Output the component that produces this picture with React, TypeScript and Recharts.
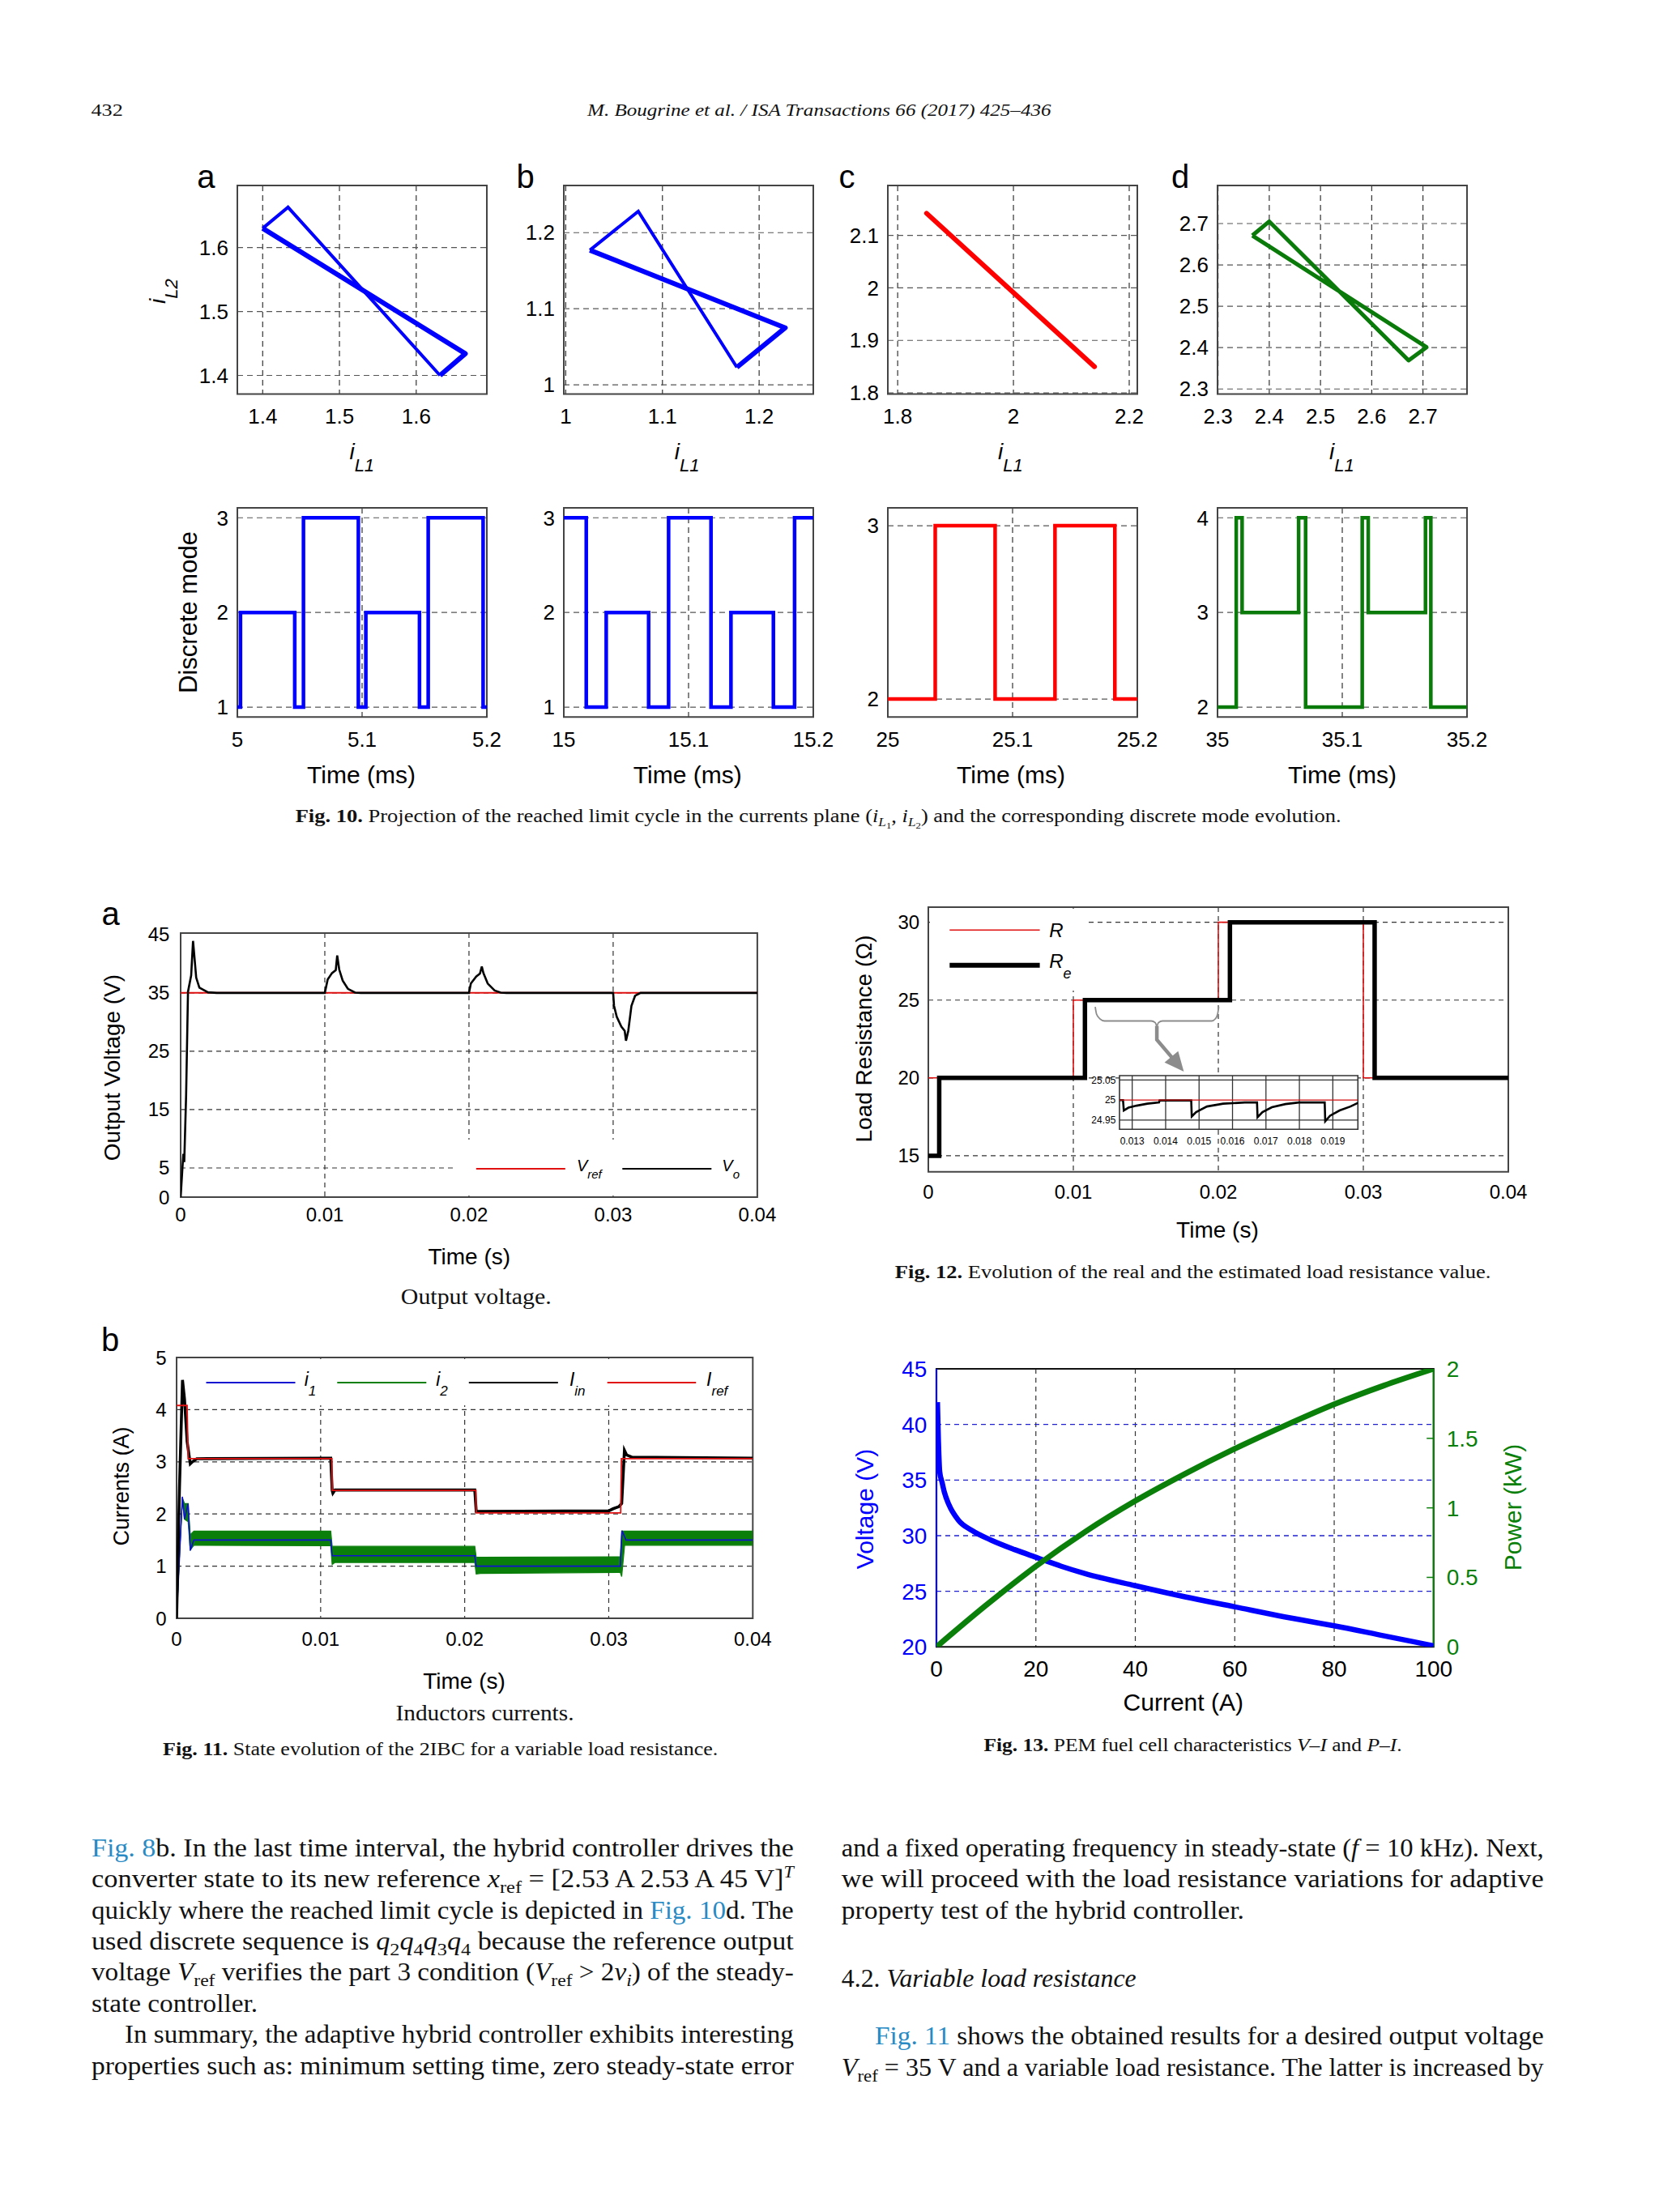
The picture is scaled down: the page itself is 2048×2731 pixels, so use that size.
import React from 'react';
import {
  ComposedChart,
  Line,
  Area,
  XAxis,
  YAxis,
  CartesianGrid,
  ReferenceArea,
  ReferenceLine,
} from 'recharts';

const SANS = "'Liberation Sans', Arial, Helvetica, sans-serif";
const SERIF = "'Liberation Serif', 'Times New Roman', serif";
const LINK = '#2a8bc4';
const BLUE = '#0000ff';
const RED = '#ff0000';
const GREEN = '#0a7f0a';

// ---------- Fig. 10 : limit cycles in the (iL1, iL2) plane ----------
const cycleAThin = [[1.4, 1.63], [1.433, 1.663], [1.631, 1.4]];
const cycleAThick = [[1.631, 1.4], [1.664, 1.434], [1.4, 1.63]];
const cycleBThin = [[1.025, 1.177], [1.075, 1.228], [1.177, 1.023]];
const cycleBThick = [[1.177, 1.023], [1.227, 1.075], [1.025, 1.177]];
const cycleC = [[1.85, 2.142], [2.14, 1.85]];
const cycleD = [[2.367, 2.671], [2.4, 2.705], [2.672, 2.369], [2.707, 2.401], [2.367, 2.671]];

const f10TopXTicks = [[1.4, 1.5, 1.6], [1, 1.1, 1.2], [1.8, 2, 2.2], [2.3, 2.4, 2.5, 2.6, 2.7]];
const f10TopYTicks = [[1.4, 1.5, 1.6], [1, 1.1, 1.2], [1.8, 1.9, 2, 2.1], [2.3, 2.4, 2.5, 2.6, 2.7]];
const f10TopXDomain = [[1.367, 1.692], [0.998, 1.256], [1.783, 2.214], [2.299, 2.786]];
const f10TopYDomain = [[1.371, 1.697], [0.988, 1.262], [1.798, 2.195], [2.288, 2.792]];

// ---------- Fig. 10 : discrete mode evolution (time ms, mode) ----------
const modeA = [[5, 1], [5.0025, 2], [5.046, 1], [5.053, 3], [5.097, 1], [5.103, 2], [5.146, 1], [5.153, 3], [5.197, 1], [5.2, 1]];
const modeB = [[15, 3], [15.018, 1], [15.034, 2], [15.068, 1], [15.084, 3], [15.118, 1], [15.134, 2], [15.168, 1], [15.185, 3], [15.2, 3]];
const modeC = [[25, 2], [25.038, 3], [25.086, 2], [25.134, 3], [25.182, 2], [25.2, 2]];
const modeD = [[35, 2], [35.015, 4], [35.0197, 3], [35.065, 4], [35.0706, 2], [35.116, 4], [35.1208, 3], [35.1667, 4], [35.171, 2], [35.2, 2]];

const f10BotXTicks = [[5, 5.1, 5.2], [15, 15.1, 15.2], [25, 25.1, 25.2], [35, 35.1, 35.2]];
const f10BotYTicks = [[1, 2, 3], [1, 2, 3], [2, 3], [2, 3, 4]];
const f10BotYDomain = [[0.895, 3.105], [0.895, 3.105], [1.896, 3.103], [1.895, 4.105]];

// ---------- Fig. 11a : output voltage ----------
const vRef = [[0, 35], [0.04, 35]];
const vOut = [
  [0, 0], [0.000127, 5.1], [0.00019, 7.4], [0.00025, 6.0], [0.00038, 17.5], [0.00051, 35.2],
  [0.00073, 38], [0.00086, 43.9], [0.00108, 37.6], [0.0013, 35.9], [0.0019, 35.1], [0.0025, 35],
  [0.01, 35], [0.0102, 37.3], [0.0105, 38.4], [0.01076, 38.9], [0.01086, 41.4], [0.011, 39],
  [0.01124, 37.1], [0.0116, 35.7], [0.0121, 35.05], [0.0125, 35], [0.02, 35], [0.02013, 36.6],
  [0.0205, 37.8], [0.02076, 38.3], [0.02089, 39.5], [0.021, 38.4], [0.0213, 36.6], [0.02178, 35.4],
  [0.0222, 35.05], [0.0226, 35], [0.03, 35], [0.03006, 32.8], [0.03025, 30.9], [0.03057, 29.2],
  [0.0308, 28.5], [0.03089, 26.8], [0.03105, 28.5], [0.03127, 32.8], [0.03152, 34.5], [0.0319, 35],
  [0.04, 35],
];
const timeTicks = [0, 0.01, 0.02, 0.03, 0.04];
const timeGrid = [0.01, 0.02, 0.03];
const voltTicks = [0, 5, 15, 25, 35, 45];

// ---------- Fig. 11b : currents ----------
const iRef = [[0, 4.08], [0.00073, 4.08], [0.0008, 3.06], [0.01078, 3.06], [0.0108, 2.45], [0.02078, 2.45], [0.0208, 2.02], [0.03083, 2.02], [0.03088, 3.06], [0.04, 3.06]];
const iIn = [
  [0, 0], [0.0002, 2.5], [0.00041, 4.57], [0.00055, 4.2], [0.00073, 3.39], [0.00095, 2.96],
  [0.0011, 3.0], [0.0014, 3.06], [0.0107, 3.07], [0.0108, 2.45], [0.01085, 2.4], [0.011, 2.46],
  [0.0207, 2.46], [0.0208, 2.05], [0.03, 2.06], [0.0303, 2.1], [0.0307, 2.14], [0.0309, 2.2],
  [0.03109, 3.22], [0.03125, 3.13], [0.0316, 3.09], [0.04, 3.07],
];
const i1 = [
  [0, 0], [0.0004, 2.33], [0.00055, 1.9], [0.0008, 2.2], [0.00095, 1.3], [0.0012, 1.5], [0.0107, 1.5],
  [0.0108, 1.2], [0.0207, 1.2], [0.0208, 1.0], [0.0308, 1.0], [0.03092, 1.68], [0.0312, 1.5], [0.04, 1.5],
];
// ripple envelope of i2 : [t, low, high]
const i2Band = [
  [0, 0, 0], [0.0002, 1.2, 1.2], [0.0004, 2.28, 2.31], [0.00055, 1.9, 2.2], [0.0008, 1.85, 2.2],
  [0.00095, 1.31, 1.6], [0.0012, 1.4, 1.67], [0.0107, 1.39, 1.67], [0.0108, 1.03, 1.38], [0.011, 1.07, 1.38],
  [0.0207, 1.07, 1.38], [0.0208, 0.85, 1.17], [0.0211, 0.86, 1.17], [0.0308, 0.88, 1.18], [0.0309, 0.8, 1.67],
  [0.0311, 1.4, 1.67], [0.04, 1.4, 1.67],
];
const currTicks = [0, 1, 2, 3, 4, 5];

// ---------- Fig. 12 : load resistance ----------
const rReal = [[0, 20], [0.01, 25], [0.02, 30], [0.03, 20], [0.04, 20]];
const rEst = [[0, 15], [0.00075, 20], [0.0108, 25], [0.0208, 30], [0.03078, 20], [0.04, 20]];
const resTicks = [15, 20, 25, 30];
const braceLine = [
  [0.01151, 24.56], [0.0116, 24.1], [0.01183, 23.8], [0.01215, 23.66], [0.01537, 23.66], [0.01565, 23.55],
  [0.01576, 23.35], [0.01587, 23.55], [0.01615, 23.66], [0.01955, 23.66], [0.0198, 23.8], [0.01995, 24.1],
  [0.02003, 24.56],
];
const arrowLine = [[0.01576, 23.35], [0.01576, 22.45], [0.0174, 20.66]];
const arrowTip = [[0.01762, 20.4]];
const insetReal = [[0.01262, 25], [0.01975, 25]];
const insetEst = [
  [0.012603, 25.0], [0.012725, 25.0], [0.012749, 24.974], [0.012887, 24.981], [0.01313, 24.986],
  [0.013453, 24.991], [0.013802, 24.994], [0.013818, 24.999], [0.014765, 24.999], [0.014781, 24.959],
  [0.01491, 24.97], [0.015235, 24.984], [0.01572, 24.991], [0.016368, 24.994], [0.016733, 24.994],
  [0.016749, 24.957], [0.016895, 24.97], [0.017178, 24.982], [0.017583, 24.99], [0.017988, 24.994],
  [0.018757, 24.994], [0.018773, 24.947], [0.018919, 24.961], [0.019202, 24.974], [0.019526, 24.984],
  [0.019753, 24.993],
];
const insetXTicks = [0.013, 0.014, 0.015, 0.016, 0.017, 0.018, 0.019];
const insetYTicks = [24.95, 25, 25.05];

// ---------- Fig. 13 : PEM fuel cell ----------
const vCurve = [
  [0.2, 42], [0.4, 38.5], [0.66, 35.75], [1.13, 34.8], [1.6, 33.9], [2.5, 32.8], [4.4, 31.4], [7.2, 30.45],
  [11, 29.6], [15.7, 28.75], [20.4, 28], [25.1, 27.25], [29.8, 26.6], [40, 25.5], [50, 24.5], [60, 23.6],
  [70, 22.7], [80, 21.9], [90, 21.0], [100, 20.1],
];
const pCurve = [[0, 0], [10, 0.3], [20, 0.58], [30, 0.83], [40, 1.05], [50, 1.245], [60, 1.425], [70, 1.59], [80, 1.745], [90, 1.88], [100, 2.0]];
const ampTicks = [0, 20, 40, 60, 80, 100];
const fcVoltTicks = [20, 25, 30, 35, 40, 45];
const powerTicks = [0, 0.5, 1, 1.5, 2];

const toXY = (a: number[][]) => a.map(([x, y]) => ({ x, y }));
const toBand = (a: number[][]) => a.map(([x, lo, hi]) => ({ x, r: [lo, hi] }));

type Box = { x: number; y: number; w: number; h: number };

function Plot({ box, yw = 80, yr = 0, xh = 60, mt = 20, mr = 40, children }: any) {
  return (
    <div style={{ position: 'absolute', left: box.x - yw, top: box.y - mt }}>
      <ComposedChart
        width={yw + box.w + yr + mr}
        height={mt + box.h + xh}
        margin={{ top: mt, right: mr, bottom: 0, left: 0 }}
      >
        {children}
      </ComposedChart>
    </div>
  );
}

const xAxis = (d: number[], t: number[], size: number, margin: number, h: number, color = '#000') => (
  <XAxis
    type="number"
    dataKey="x"
    domain={d}
    ticks={t}
    allowDataOverflow
    interval={0}
    axisLine={false}
    tickLine={false}
    tickSize={0}
    tickMargin={margin}
    height={h}
    tick={{ fontSize: size, fill: color, fontFamily: SANS }}
  />
);

const yAxis = (d: number[], t: number[], size: number, margin: number, w: number, extra: any = {}) => (
  <YAxis
    type="number"
    domain={d}
    ticks={t}
    allowDataOverflow
    interval={0}
    axisLine={false}
    tickLine={false}
    tickSize={0}
    tickMargin={margin}
    width={w}
    tick={{ fontSize: size, fill: extra.color || '#000', fontFamily: SANS }}
    {...extra.props}
  />
);

const line = (data: number[][], stroke: string, width: number, extra: any = {}) => (
  <Line
    data={toXY(data)}
    dataKey="y"
    stroke={stroke}
    strokeWidth={width}
    dot={false}
    activeDot={false}
    type="linear"
    isAnimationActive={false}
    {...extra}
  />
);

const F10_X = [293, 695.5, 1095.5, 1503];
const F10_W = 308;

function Fig10Top({ i, children }: any) {
  const box: Box = { x: F10_X[i], y: 229.3, w: F10_W, h: 257.4 };
  const xd = f10TopXDomain[i];
  const yd = f10TopYDomain[i];
  return (
    <Plot box={box}>
      <CartesianGrid horizontal={false} verticalValues={f10TopXTicks[i]} stroke="#333" strokeDasharray="7 5" strokeWidth={1.2} />
      <CartesianGrid vertical={false} horizontalValues={f10TopYTicks[i]} stroke="#555" strokeDasharray="7 5" strokeWidth={1.2} />
      {xAxis(xd, f10TopXTicks[i], 26, 18.6, 60)}
      {yAxis(yd, f10TopYTicks[i], 26, 11, 80)}
      <ReferenceArea x1={xd[0]} x2={xd[1]} y1={yd[0]} y2={yd[1]} fill="none" stroke="#444" strokeWidth={2} />
      {children}
    </Plot>
  );
}

function Fig10Bottom({ i, data, color }: any) {
  const box: Box = { x: F10_X[i], y: 626.7, w: F10_W, h: 258.3 };
  const xt = f10BotXTicks[i];
  const xd = [xt[0], xt[2]];
  const yd = f10BotYDomain[i];
  return (
    <Plot box={box}>
      <CartesianGrid horizontal={false} verticalValues={[xt[1]]} stroke="#333" strokeDasharray="7 5" strokeWidth={1.2} />
      <CartesianGrid vertical={false} horizontalValues={f10BotYTicks[i]} stroke="#555" strokeDasharray="7 5" strokeWidth={1.2} />
      {xAxis(xd, xt, 26, 18.3, 60)}
      {yAxis(yd, f10BotYTicks[i], 26, 11, 80)}
      <ReferenceArea x1={xd[0]} x2={xd[1]} y1={yd[0]} y2={yd[1]} fill="none" stroke="#444" strokeWidth={2} />
      {line(data, color, 4.5, { type: 'stepAfter' })}
    </Plot>
  );
}

const gridProps = { stroke: '#333', strokeDasharray: '6 5', strokeWidth: 1.2 };

function Fig11a() {
  const box: Box = { x: 223.4, y: 1151.7, w: 711.9, h: 326 };
  const yd = [0, 45.25];
  return (
    <Plot box={box}>
      <CartesianGrid horizontal={false} verticalValues={timeGrid} {...gridProps} />
      <CartesianGrid vertical={false} horizontalValues={[5, 15, 25, 35]} {...gridProps} />
      {xAxis([0, 0.04], timeTicks, 24, 13.4, 60)}
      {yAxis(yd, voltTicks, 24, 13.6, 80)}
      <ReferenceArea x1={0} x2={0.04} y1={yd[0]} y2={yd[1]} fill="none" stroke="#444" strokeWidth={2} />
      {line(vRef, '#e01010', 2)}
      {line(vOut, '#000', 2.6)}
    </Plot>
  );
}

function Fig11b() {
  const box: Box = { x: 217.8, y: 1676, w: 711.3, h: 322 };
  return (
    <Plot box={box}>
      <CartesianGrid horizontal={false} verticalValues={timeGrid} {...gridProps} />
      <CartesianGrid vertical={false} horizontalValues={[1, 2, 3, 4]} {...gridProps} />
      {xAxis([0, 0.04], timeTicks, 24, 17, 60)}
      {yAxis([0, 5], currTicks, 24, 12.4, 80)}
      <ReferenceArea x1={0} x2={0.04} y1={0} y2={5} fill="none" stroke="#444" strokeWidth={2} />
      {line(i1, '#1010d0', 1.6)}
      <Area
        data={toBand(i2Band)}
        dataKey="r"
        type="linear"
        stroke={GREEN}
        strokeWidth={1.2}
        fill={GREEN}
        fillOpacity={1}
        dot={false}
        activeDot={false}
        isAnimationActive={false}
      />
      {line(iIn, '#000', 3.6)}
      {line(iRef, '#e01010', 1.8)}
    </Plot>
  );
}

const ArrowHead = (props: any) => {
  const { cx, cy } = props;
  if (cx == null || cy == null) return <g />;
  const a = (50 * Math.PI) / 180;
  const ux = Math.cos(a);
  const uy = Math.sin(a);
  const bx = cx - 24 * ux;
  const by = cy - 24 * uy;
  const d = `M${cx},${cy} L${bx - 11 * uy},${by + 11 * ux} L${bx + 11 * uy},${by - 11 * ux} Z`;
  return <path key="tip" d={d} fill="#8c8c8c" />;
};

function Fig12() {
  const box: Box = { x: 1146.3, y: 1120, w: 716, h: 326.7 };
  const yd = [13.97, 30.97];
  return (
    <Plot box={box}>
      <CartesianGrid horizontal={false} verticalValues={timeGrid} {...gridProps} />
      <CartesianGrid vertical={false} horizontalValues={resTicks} {...gridProps} />
      {xAxis([0, 0.04], timeTicks, 24, 16.4, 60)}
      {yAxis(yd, resTicks, 24, 10.9, 80)}
      <ReferenceArea x1={0} x2={0.04} y1={yd[0]} y2={yd[1]} fill="none" stroke="#444" strokeWidth={2} />
      {line(rReal, '#e01010', 1.6, { type: 'stepAfter' })}
      {line(rEst, '#000', 5.5, { type: 'stepAfter' })}
      {line(braceLine, '#8c8c8c', 1.8, { type: 'monotone' })}
      {line(arrowLine, '#8c8c8c', 4.5)}
      {line(arrowTip, '#8c8c8c', 0, { dot: ArrowHead })}
    </Plot>
  );
}

function Fig12Inset() {
  const box: Box = { x: 1381.7, y: 1327.7, w: 294.3, h: 66.3 };
  const xd = [0.01262, 0.01975];
  const yd = [24.927, 25.061];
  return (
    <>
      <div style={{ position: 'absolute', left: box.x, top: box.y, width: box.w, height: box.h, background: '#fff' }} />
      <Plot box={box} yw={50} xh={30} mt={6} mr={16}>
        <CartesianGrid verticalValues={insetXTicks} horizontalValues={[24.95, 25.05]} stroke="#333" strokeWidth={1.3} />
        {xAxis(xd, insetXTicks, 12, 10.4, 30)}
        {yAxis(yd, insetYTicks, 12, 4.7, 50)}
        <ReferenceArea x1={xd[0]} x2={xd[1]} y1={yd[0]} y2={yd[1]} fill="none" stroke="#333" strokeWidth={1.6} />
        {line(insetEst, '#000', 2.6)}
        {line(insetReal, '#d01010', 1.3)}
      </Plot>
    </>
  );
}

function Fig13() {
  const box: Box = { x: 1155.6, y: 1690, w: 613.8, h: 343.3 };
  return (
    <Plot box={box} yw={80} yr={80} mr={10}>
      <CartesianGrid yAxisId="v" horizontal={false} verticalValues={[20, 40, 60, 80]} {...gridProps} />
      <CartesianGrid yAxisId="v" vertical={false} horizontalValues={[25, 30, 35, 40]} stroke="#2020d0" strokeDasharray="6 5" strokeWidth={1.3} />
      {xAxis([0, 100], ampTicks, 28, 16.7, 60)}
      {yAxis([20, 45], fcVoltTicks, 28, 11.6, 80, { color: BLUE, props: { yAxisId: 'v' } })}
      {yAxis([0, 2], powerTicks, 28, 16, 80, { color: GREEN, props: { yAxisId: 'p', orientation: 'right' } })}
      <ReferenceArea yAxisId="v" x1={0} x2={100} y1={20} y2={45} fill="none" stroke="#111" strokeWidth={2} />
      <ReferenceLine yAxisId="v" x={0} stroke={BLUE} strokeWidth={2.2} />
      <ReferenceLine yAxisId="v" x={100} stroke={GREEN} strokeWidth={2.2} />
      {[0.5, 1, 1.5].map((p) => (
        <ReferenceLine key={p} yAxisId="p" segment={[{ x: 98.6, y: p }, { x: 100, y: p }]} stroke={GREEN} strokeWidth={1.5} />
      ))}
      {line(vCurve, BLUE, 6.5, { yAxisId: 'v', type: 'monotone' })}
      {line(pCurve, GREEN, 7, { yAxisId: 'p', type: 'monotone' })}
    </Plot>
  );
}

function Overlay() {
  const lab = { fontFamily: SANS, fill: '#000' };
  const cap = { fontFamily: SERIF, fill: '#111', fontSize: 23 };
  const body = { fontFamily: SERIF, fill: '#111', fontSize: 31 };
  const just = (len: number) => ({ textLength: len, lengthAdjust: 'spacingAndGlyphs' as any });
  const iL = (cx: number, n: string) => (
    <text x={cx - 16} y={567} fontSize={28} fontStyle="italic" {...lab}>
      i<tspan dy={15} fontSize={22}>{'L' + n}</tspan>
    </text>
  );
  const timeMs = (cx: number) => (
    <text x={cx} y={967} fontSize={30} textAnchor="middle" {...lab}>Time (ms)</text>
  );
  return (
    <svg width={2048} height={2731} style={{ position: 'absolute', left: 0, top: 0 }}>
      {/* running head */}
      <text x={112.5} y={143.3} fontSize={21} fontFamily={SERIF} fill="#111" {...just(39.2)}>432</text>
      <text x={725} y={143.3} fontSize={21} fontFamily={SERIF} fontStyle="italic" fill="#111" {...just(572.5)}>
        M. Bougrine et al. / ISA Transactions 66 (2017) 425–436
      </text>

      {/* Fig. 10 labels */}
      <text x={254.4} y={231.7} fontSize={40} textAnchor="middle" {...lab}>a</text>
      <text x={648.6} y={231.7} fontSize={40} textAnchor="middle" {...lab}>b</text>
      <text x={1045.5} y={231.7} fontSize={40} textAnchor="middle" {...lab}>c</text>
      <text x={1457} y={231.7} fontSize={40} textAnchor="middle" {...lab}>d</text>
      <text x={204} y={375} fontSize={28} fontStyle="italic" transform="rotate(-90 204 375)" {...lab}>
        i<tspan dy={15} fontSize={22}>L2</tspan>
      </text>
      {iL(447.4, '1')}
      {iL(848.7, '1')}
      {iL(1248, '1')}
      {iL(1657, '1')}
      <text x={243} y={756} fontSize={31} textAnchor="middle" transform="rotate(-90 243 756)" {...lab}>Discrete mode</text>
      {timeMs(446)}
      {timeMs(848.7)}
      {timeMs(1248)}
      {timeMs(1657)}
      <text x={364.7} y={1015} {...cap} {...just(1291)}>
        <tspan fontWeight="bold">Fig. 10.</tspan>
        {'  Projection of the reached limit cycle in the currents plane ('}
        <tspan fontStyle="italic">i</tspan>
        <tspan dy={5} fontSize={15} fontStyle="italic">L</tspan>
        <tspan dy={3} fontSize={11}>1</tspan>
        <tspan dy={-8}>{', '}</tspan>
        <tspan fontStyle="italic">i</tspan>
        <tspan dy={5} fontSize={15} fontStyle="italic">L</tspan>
        <tspan dy={3} fontSize={11}>2</tspan>
        <tspan dy={-8}>{') and the corresponding discrete mode evolution.'}</tspan>
      </text>

      {/* Fig. 11a */}
      <text x={136.5} y={1142} fontSize={40} textAnchor="middle" {...lab}>a</text>
      <text x={148} y={1318} fontSize={28} textAnchor="middle" transform="rotate(-90 148 1318)" {...lab}>Output Voltage (V)</text>
      <text x={579.3} y={1561} fontSize={28} textAnchor="middle" {...lab}>Time (s)</text>
      <text x={587.8} y={1610} fontSize={28} textAnchor="middle" fontFamily={SERIF} fill="#111" {...just(186)}>Output voltage.</text>
      <rect x={560} y={1407} width={373} height={69} fill="#fff" />
      <line x1={587.8} x2={697.8} y1={1443} y2={1443} stroke="#e01010" strokeWidth={2.2} />
      <text x={711.9} y={1446} fontSize={20} fontStyle="italic" {...lab}>
        V<tspan dy={9} fontSize={15}>ref</tspan>
      </text>
      <line x1={768.3} x2={878.3} y1={1443} y2={1443} stroke="#000" strokeWidth={2.2} />
      <text x={891.3} y={1446} fontSize={20} fontStyle="italic" {...lab}>
        V<tspan dy={9} fontSize={15}>o</tspan>
      </text>

      {/* Fig. 11b */}
      <text x={136} y={1668} fontSize={40} textAnchor="middle" {...lab}>b</text>
      <text x={158.5} y={1835} fontSize={27} textAnchor="middle" transform="rotate(-90 158.5 1835)" {...lab}>Currents (A)</text>
      <text x={573} y={2085} fontSize={28} textAnchor="middle" {...lab}>Time (s)</text>
      <text x={598.5} y={2124} fontSize={28} textAnchor="middle" fontFamily={SERIF} fill="#111" {...just(220)}>Inductors currents.</text>
      <text x={201} y={2167} {...cap} {...just(685.3)}>
        <tspan fontWeight="bold">Fig. 11.</tspan>
        {'  State evolution of the 2IBC for a variable load resistance.'}
      </text>
      <rect x={232} y={1678} width={695} height={57} fill="#fff" />
      <line x1={254.5} x2={364.5} y1={1707} y2={1707} stroke="#1010d0" strokeWidth={2} />
      <text x={375.7} y={1711} fontSize={23} fontStyle="italic" {...lab}>
        i<tspan dy={12} fontSize={17}>1</tspan>
      </text>
      <line x1={416.3} x2={526.3} y1={1707} y2={1707} stroke={GREEN} strokeWidth={2} />
      <text x={538.2} y={1711} fontSize={23} fontStyle="italic" {...lab}>
        i<tspan dy={12} fontSize={17}>2</tspan>
      </text>
      <line x1={578.8} x2={688.8} y1={1707} y2={1707} stroke="#000" strokeWidth={2} />
      <text x={702.9} y={1711} fontSize={23} fontStyle="italic" {...lab}>
        I<tspan dy={12} fontSize={17}>in</tspan>
      </text>
      <line x1={749.7} x2={859.2} y1={1707} y2={1707} stroke="#e01010" strokeWidth={2} />
      <text x={872.1} y={1711} fontSize={23} fontStyle="italic" {...lab}>
        I<tspan dy={12} fontSize={17}>ref</tspan>
      </text>

      {/* Fig. 12 */}
      <text x={1076} y={1282.5} fontSize={28} textAnchor="middle" transform="rotate(-90 1076 1282.5)" {...lab}>Load Resistance (Ω)</text>
      <text x={1502.9} y={1528.3} fontSize={28} textAnchor="middle" {...lab}>Time (s)</text>
      <text x={1104.8} y={1578.3} {...cap} {...just(735.6)}>
        <tspan fontWeight="bold">Fig. 12.</tspan>
        {'  Evolution of the real and the estimated load resistance value.'}
      </text>
      <rect x={1148} y={1122} width={196} height={101} fill="#fff" />
      <line x1={1172.3} x2={1283.6} y1={1148.3} y2={1148.3} stroke="#e01010" strokeWidth={1.6} />
      <text x={1295.2} y={1156.5} fontSize={24} fontStyle="italic" {...lab}>R</text>
      <line x1={1172.3} x2={1283.6} y1={1191.7} y2={1191.7} stroke="#000" strokeWidth={6} />
      <text x={1295.2} y={1195} fontSize={24} fontStyle="italic" {...lab}>
        R<tspan dy={13} fontSize={18}>e</tspan>
      </text>

      {/* Fig. 13 */}
      <text x={1078} y={1863} fontSize={30} textAnchor="middle" transform="rotate(-90 1078 1863)" fontFamily={SANS} fill={BLUE}>Voltage (V)</text>
      <text x={1877.5} y={1861} fontSize={30} textAnchor="middle" transform="rotate(-90 1877.5 1861)" fontFamily={SANS} fill={GREEN}>Power (kW)</text>
      <text x={1460.8} y={2112} fontSize={30} textAnchor="middle" {...lab}>Current (A)</text>
      <text x={1214.4} y={2162} {...cap} {...just(516.3)}>
        <tspan fontWeight="bold">Fig. 13.</tspan>
        {'  PEM fuel cell characteristics '}
        <tspan fontStyle="italic">V</tspan>
        {'–'}
        <tspan fontStyle="italic">I</tspan>
        {' and '}
        <tspan fontStyle="italic">P</tspan>
        {'–'}
        <tspan fontStyle="italic">I</tspan>
        {'.'}
      </text>

      {/* body text, left column */}
      <text x={113} y={2291.7} {...body} {...just(866.8)}>
        <tspan fill={LINK}>Fig. 8</tspan>
        {'b. In the last time interval, the hybrid controller drives the'}
      </text>
      <text x={113} y={2330} {...body} {...just(866.8)}>
        {'converter state to its new reference '}
        <tspan fontStyle="italic">x</tspan>
        <tspan dy={7} fontSize={22}>ref</tspan>
        <tspan dy={-7}>{' = [2.53 A 2.53 A 45 V]'}</tspan>
        <tspan dy={-12} fontSize={20} fontStyle="italic">T</tspan>
      </text>
      <text x={113} y={2368.5} {...body} {...just(866.8)}>
        {'quickly where the reached limit cycle is depicted in '}
        <tspan fill={LINK}>Fig. 10</tspan>
        {'d. The'}
      </text>
      <text x={113} y={2407} {...body} {...just(866.8)}>
        {'used discrete sequence is '}
        <tspan fontStyle="italic">q</tspan>
        <tspan dy={7} fontSize={22}>2</tspan>
        <tspan dy={-7} fontStyle="italic">q</tspan>
        <tspan dy={7} fontSize={22}>4</tspan>
        <tspan dy={-7} fontStyle="italic">q</tspan>
        <tspan dy={7} fontSize={22}>3</tspan>
        <tspan dy={-7} fontStyle="italic">q</tspan>
        <tspan dy={7} fontSize={22}>4</tspan>
        <tspan dy={-7}>{' because the reference output'}</tspan>
      </text>
      <text x={113} y={2445.3} {...body} {...just(866.8)}>
        {'voltage '}
        <tspan fontStyle="italic">V</tspan>
        <tspan dy={7} fontSize={22}>ref</tspan>
        <tspan dy={-7}>{' verifies the part 3 condition ('}</tspan>
        <tspan fontStyle="italic">V</tspan>
        <tspan dy={7} fontSize={22}>ref</tspan>
        <tspan dy={-7}>{' > 2'}</tspan>
        <tspan fontStyle="italic">v</tspan>
        <tspan dy={7} fontSize={22} fontStyle="italic">i</tspan>
        <tspan dy={-7}>{') of the steady-'}</tspan>
      </text>
      <text x={113} y={2483.7} {...body} {...just(205)}>state controller.</text>
      <text x={154} y={2522} {...body} {...just(825.8)}>
        In summary, the adaptive hybrid controller exhibits interesting
      </text>
      <text x={113} y={2560.5} {...body} {...just(866.8)}>
        properties such as: minimum setting time, zero steady-state error
      </text>

      {/* body text, right column */}
      <text x={1038.8} y={2291.7} {...body} {...just(866.9)}>
        {'and a fixed operating frequency in steady-state ('}
        <tspan fontStyle="italic">f</tspan>
        {' = 10 kHz). Next,'}
      </text>
      <text x={1038.8} y={2330} {...body} {...just(866.9)}>
        we will proceed with the load resistance variations for adaptive
      </text>
      <text x={1038.8} y={2368.5} {...body} {...just(497.2)}>
        property test of the hybrid controller.
      </text>
      <text x={1038.8} y={2453.3} {...body} {...just(363.9)}>
        {'4.2.  '}
        <tspan fontStyle="italic">Variable load resistance</tspan>
      </text>
      <text x={1080} y={2524} {...body} {...just(825.7)}>
        <tspan fill={LINK}>Fig. 11</tspan>
        {' shows the obtained results for a desired output voltage'}
      </text>
      <text x={1038.8} y={2562.5} {...body} {...just(866.9)}>
        <tspan fontStyle="italic">V</tspan>
        <tspan dy={7} fontSize={22}>ref</tspan>
        <tspan dy={-7}>{' = 35 V and a variable load resistance. The latter is increased by'}</tspan>
      </text>
    </svg>
  );
}

export default function App() {
  return (
    <div style={{ position: 'absolute', left: 0, top: 0, width: 2048, height: 2731, background: '#fff', overflow: 'hidden' }}>
      <Fig10Top i={0}>
        {line(cycleAThin, BLUE, 4)}
        {line(cycleAThick, BLUE, 6, { strokeLinejoin: 'round' })}
      </Fig10Top>
      <Fig10Top i={1}>
        {line(cycleBThin, BLUE, 4)}
        {line(cycleBThick, BLUE, 6, { strokeLinejoin: 'round' })}
      </Fig10Top>
      <Fig10Top i={2}>{line(cycleC, RED, 6, { strokeLinecap: 'round' })}</Fig10Top>
      <Fig10Top i={3}>{line(cycleD, '#0a7a0a', 5, { strokeLinejoin: 'round' })}</Fig10Top>

      <Fig10Bottom i={0} data={modeA} color={BLUE} />
      <Fig10Bottom i={1} data={modeB} color={BLUE} />
      <Fig10Bottom i={2} data={modeC} color={RED} />
      <Fig10Bottom i={3} data={modeD} color="#0a7a0a" />

      <Fig11a />
      <Fig11b />
      <Fig12 />
      <Fig12Inset />
      <Fig13 />
      <Overlay />
    </div>
  );
}
